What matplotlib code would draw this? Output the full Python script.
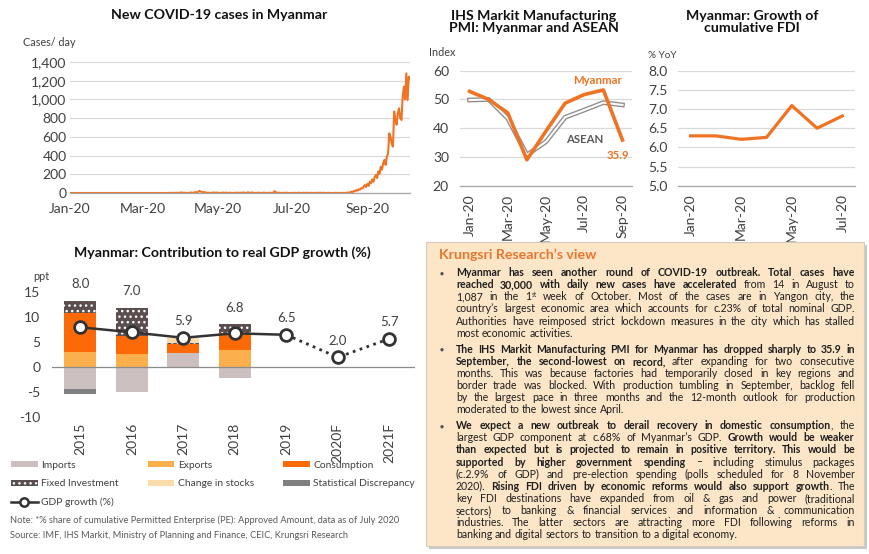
import numpy as np
import matplotlib
matplotlib.use("Agg")
import matplotlib.pyplot as plt
from matplotlib.patches import Patch, Rectangle
from matplotlib.lines import Line2D
from matplotlib.font_manager import FontProperties
from matplotlib.ticker import FuncFormatter

W, H = 870, 554
FONT = ["Lato", "DejaVu Sans"]
plt.rcParams["font.family"] = FONT
plt.rcParams["axes.unicode_minus"] = False

# ---- data ----
# new COVID-19 cases per day, 1 Jan 2020 .. 6 Oct 2020
covid_jan = [0] * 31
covid_feb = [0] * 29
covid_mar = [0] * 22 + [2, 1, 0, 2, 0, 3, 2, 0, 4]
covid_apr = [5, 3, 2, 3, 2, 1, 0, 1, 6, 3, 2, 7, 10, 4, 11, 22, 17, 12, 8, 10,
             7, 4, 3, 2, 1, 2, 3, 5, 2, 4]
covid_may = [3, 1, 2, 0, 5, 3, 2, 4, 1, 0, 3, 2, 1, 0, 2, 1, 4, 2, 1, 3,
             2, 5, 3, 1, 0, 8, 2, 1, 6, 3, 2]
covid_jun = [0, 2, 1, 3, 1, 0, 2, 4, 1, 2, 0, 1, 3, 1, 2, 5, 20, 1, 4, 2,
             3, 1, 0, 2, 1, 3, 2, 1, 0, 1]
covid_jul = [1, 0, 2, 1, 0, 3, 1, 2, 0, 1, 2, 0, 1, 3, 0, 1, 2, 0, 1, 0,
             2, 1, 0, 3, 1, 0, 2, 1, 0, 1, 2]
covid_aug = [0, 0, 1, 0, 2, 0, 1, 0, 0, 1, 0, 2, 0, 1, 0, 6, 3, 8, 14, 10,
             22, 18, 31, 26, 40, 35, 52, 48, 70, 85, 64]
covid_sep = [98, 76, 121, 105, 145, 120, 170, 192, 160, 230, 205, 281, 250, 320, 353,
             300, 388, 420, 638, 600, 530, 495, 870, 780, 730, 850, 905, 800, 780, 1030]
covid_oct = [1136, 1000, 1279, 994, 1243, 1225]
covid_daily = (covid_jan + covid_feb + covid_mar + covid_apr + covid_may + covid_jun
               + covid_jul + covid_aug + covid_sep + covid_oct)
covid_tick_days = [0, 60, 121, 182, 244]
covid_tick_labels = ["Jan-20", "Mar-20", "May-20", "Jul-20", "Sep-20"]

pmi_months = ["Jan-20", "Feb-20", "Mar-20", "Apr-20", "May-20", "Jun-20",
              "Jul-20", "Aug-20", "Sep-20"]
pmi_myanmar = [52.8, 50.0, 45.3, 29.0, 39.0, 48.7, 51.7, 53.3, 35.9]
pmi_asean = [49.8, 50.0, 43.4, 30.7, 35.3, 43.8, 46.3, 48.9, 48.1]

fdi_months = ["Jan-20", "Feb-20", "Mar-20", "Apr-20", "May-20", "Jun-20", "Jul-20"]
fdi_growth = [6.30, 6.30, 6.21, 6.26, 7.09, 6.50, 6.82]

gdp_years = ["2015", "2016", "2017", "2018", "2019", "2020F", "2021F"]
gdp_imports = [-4.4, -5.0, 2.9, -2.1, 0, 0, 0]
gdp_exports = [3.1, 2.7, 0, 3.5, 0, 0, 0]
gdp_consumption = [7.8, 3.6, 1.8, 3.3, 0, 0, 0]
gdp_fixed_inv = [2.4, 5.6, 0.2, 1.8, 0, 0, 0]
gdp_stocks = [0, 0, 1.0, 0, 0, 0, 0]
gdp_stat_disc = [-1.0, 0, -0.2, 0, 0, 0, 0]
gdp_growth = [8.0, 7.0, 5.9, 6.8, 6.5, 2.0, 5.7]

ORANGE = "#ef7322"
TICK = "#404040"
GRID = "#d9d9d9"
C_IMP, C_EXP, C_CONS = "#cbbfbf", "#fbae4c", "#fb6a06"
C_FIX, C_STK, C_STAT = "#5b4e4e", "#fcdcab", "#808080"
TICK_FS = 10


def px_axes(fig, x0, y0, x1, y1):
    return fig.add_axes([x0 / W, 1 - y1 / H, (x1 - x0) / W, (y1 - y0) / H])


def fig_text(fig, x, y, s, **kw):
    return fig.text(x / W, 1 - y / H, s, **kw)


def style_line_axes(ax):
    for s in ax.spines.values():
        s.set_visible(False)
    ax.spines["bottom"].set_visible(True)
    ax.spines["bottom"].set_color("#a6a6a6")
    ax.spines["bottom"].set_linewidth(0.9)
    ax.grid(axis="y", color=GRID, lw=0.9)
    ax.set_axisbelow(True)
    ax.tick_params(length=0, colors=TICK, labelsize=TICK_FS)


fig = plt.figure(figsize=(W / 100, H / 100), dpi=100)

# ---- COVID cases ----
ax = px_axes(fig, 70, 62, 410, 193)
ax.plot(range(len(covid_daily)), covid_daily, color=ORANGE, lw=1.5)
ax.set_xlim(0, len(covid_daily) - 1)
ax.set_ylim(0, 1400)
ax.set_yticks(range(0, 1401, 200))
ax.yaxis.set_major_formatter(FuncFormatter(lambda v, p: f"{v:,.0f}"))
ax.set_xticks(covid_tick_days, covid_tick_labels)
style_line_axes(ax)
ax.tick_params(axis="y", pad=2.5)
ax.tick_params(axis="x", pad=7.5)
fig_text(fig, 219, 15, "New COVID-19 cases in Myanmar", ha="center", va="center",
         fontsize=10.2, fontweight="bold", color="#111111")
fig_text(fig, 23, 42, "Cases/ day", ha="left", va="center", fontsize=7.8, color=TICK)

# ---- PMI ----
ax = px_axes(fig, 460, 70.7, 632, 185.7)
xm = np.arange(len(pmi_months))
ax.plot(xm, pmi_asean, color="#8c8c8c", lw=3.4, solid_joinstyle="round")
ax.plot(xm, pmi_asean, color="white", lw=1.5, solid_joinstyle="round")
ax.plot(xm, pmi_myanmar, color=ORANGE, lw=2.6, solid_joinstyle="round")
ax.set_xlim(-0.5, len(pmi_months) - 0.5)
ax.set_ylim(20, 60)
ax.set_yticks(range(20, 61, 10))
ax.set_xticks(xm[::2], pmi_months[::2], rotation=90)
style_line_axes(ax)
ax.tick_params(axis="y", pad=8)
ax.tick_params(axis="x", pad=6)
ax.annotate("Myanmar", (xm[7], pmi_myanmar[7]), xytext=(-4, 7), textcoords="offset points",
            ha="center", va="center", fontsize=8.2, fontweight="bold", color=ORANGE)
ax.annotate("ASEAN", (xm[6], pmi_asean[6]), xytext=(0, -21), textcoords="offset points",
            ha="center", va="center", fontsize=8.2, fontweight="bold", color="#595959")
ax.annotate(f"{pmi_myanmar[-1]:.1f}", (xm[-1], pmi_myanmar[-1]), xytext=(-3, -11),
            textcoords="offset points", ha="center", va="center", fontsize=8.2,
            fontweight="bold", color=ORANGE)
fig_text(fig, 534, 22, "IHS Markit Manufacturing\nPMI: Myanmar and ASEAN", ha="center",
         va="center", fontsize=10.2, fontweight="bold", color="#111111", linespacing=1.1)
fig_text(fig, 429, 53, "Index", ha="left", va="center", fontsize=7.8, color=TICK)

# ---- FDI ----
ax = px_axes(fig, 678, 70.7, 855, 185.7)
xf = np.arange(len(fdi_months))
ax.plot(xf, fdi_growth, color=ORANGE, lw=2.3, solid_joinstyle="round")
ax.set_xlim(-0.5, len(fdi_months) - 0.5)
ax.set_ylim(5, 8)
ax.set_yticks(np.arange(5, 8.01, 0.5))
ax.yaxis.set_major_formatter(FuncFormatter(lambda v, p: f"{v:.1f}"))
ax.set_xticks(xf[::2], fdi_months[::2], rotation=90)
style_line_axes(ax)
ax.tick_params(axis="y", pad=7.5)
ax.tick_params(axis="x", pad=6)
fig_text(fig, 752, 22, "Myanmar: Growth of\ncumulative FDI", ha="center", va="center",
         fontsize=10.2, fontweight="bold", color="#111111", linespacing=1.1)
fig_text(fig, 648, 56, "% YoY", ha="left", va="center", fontsize=7.2, color=TICK)

# ---- GDP contribution ----
ax = px_axes(fig, 52, 292.3, 415, 417.3)
xg = np.arange(len(gdp_years))
series = [
    ("Imports", gdp_imports, C_IMP, None),
    ("Exports", gdp_exports, C_EXP, None),
    ("Consumption", gdp_consumption, C_CONS, None),
    ("Fixed Investment", gdp_fixed_inv, C_FIX, "..."),
    ("Change in stocks", gdp_stocks, C_STK, None),
    ("Statistical Discrepancy", gdp_stat_disc, C_STAT, None),
]
pos = np.zeros(len(xg))
neg = np.zeros(len(xg))
handles = {}
for name, vals, col, hatch in series:
    v = np.array(vals, dtype=float)
    bottom = np.where(v >= 0, pos, neg)
    ax.bar(xg, v, bottom=bottom, width=0.62, color=col, hatch=hatch,
           edgecolor="white" if hatch else col, linewidth=0)
    pos += np.clip(v, 0, None)
    neg += np.clip(v, None, 0)
    handles[name] = Patch(facecolor=col, hatch=hatch, edgecolor="white" if hatch else col,
                          linewidth=0, label=name)

ax.axhline(0, color="#8c8c8c", lw=0.9, zorder=1)
ax.plot(xg[:5], gdp_growth[:5], color="#333333", lw=1.8, zorder=3)
ax.plot(xg[4:], gdp_growth[4:], color="#333333", lw=2.0, ls=(0, (1, 1.6)), zorder=3)
ax.plot(xg, gdp_growth, ls="none", marker="o", ms=8.5, mfc="white", mec="#333333",
        mew=2.0, zorder=4)
tops = np.maximum(pos, gdp_growth)
for i, (g, t) in enumerate(zip(gdp_growth, tops)):
    ax.annotate(f"{g:.1f}", (xg[i], t), xytext=(0, 12), textcoords="offset points",
                ha="center", va="center", fontsize=9.5, color=TICK, annotation_clip=False)
ax.set_xlim(-0.55, len(gdp_years) - 0.5)
ax.set_ylim(-10, 15)
ax.set_yticks(range(-10, 16, 5))
ax.set_xticks(xg, gdp_years, rotation=90)
for s in ax.spines.values():
    s.set_visible(False)
ax.tick_params(length=0, colors=TICK, labelsize=TICK_FS)
ax.tick_params(axis="y", pad=8.5)
ax.tick_params(axis="x", pad=4)
fig_text(fig, 222, 253, "Myanmar: Contribution to real GDP growth (%)", ha="center",
         va="center", fontsize=10.2, fontweight="bold", color="#111111")
fig_text(fig, 33, 277, "ppt", ha="left", va="center", fontsize=7.8, color=TICK)

handles["GDP growth (%)"] = Line2D([], [], color="#333333", lw=1.8, marker="o", ms=6,
                                   mfc="white", mec="#333333", mew=1.8, label="GDP growth (%)")
order = ["Imports", "Fixed Investment", "GDP growth (%)", "Exports", "Change in stocks",
         "Consumption", "Statistical Discrepancy"]
leg = fig.legend([handles[k] for k in order], order, loc="upper left",
                 bbox_to_anchor=(11 / W, 1 - 461 / H), frameon=False, ncol=3, fontsize=7.4,
                 handlelength=2.6, handleheight=0.55, handletextpad=0.35,
                 columnspacing=2.8, labelspacing=0.9, borderpad=0, borderaxespad=0)
for t in leg.get_texts():
    t.set_color(TICK)

fig_text(fig, 10, 520, "Note: *% share of cumulative Permitted Enterprise (PE): Approved Amount, "
         "data as of July 2020", ha="left", va="center", fontsize=6.65, color="#595959")
fig_text(fig, 10, 535, "Source: IMF, IHS Markit, Ministry of Planning and Finance, CEIC, "
         "Krungsri Research", ha="left", va="center", fontsize=6.65, color="#595959")

# ---- text box ----
bx0, by0, bx1, by1 = 426, 242, 864, 546
fig.patches.append(Rectangle((bx0 / W + 3 / W, 1 - (by1 + 3) / H), (bx1 - bx0) / W,
                             (by1 - by0) / H, transform=fig.transFigure,
                             facecolor="#c8c8c8", edgecolor="none", zorder=0))
fig.patches.append(Rectangle((bx0 / W, 1 - by1 / H), (bx1 - bx0) / W, (by1 - by0) / H,
                             transform=fig.transFigure, facecolor="#fde6c8",
                             edgecolor="#d6cabd", lw=0.8, zorder=0))
fig_text(fig, 439, 255, "Krungsri Research\u2019s view", ha="left", va="center",
         fontsize=10.2, fontweight="bold", color="#e8762d")

paragraphs = [
    (272.7, [
        "**Myanmar has seen another round of COVID-19 outbreak. Total cases have**",
        "**reached 30,000 with daily new cases have accelerated** from 14 in August to",
        "1,087 in the 1^st^ week of October. Most of the cases are in Yangon city, the",
        "country\u2019s largest economic area which accounts for c.23% of total nominal GDP.",
        "Authorities have reimposed strict lockdown measures in the city which has stalled",
        "most economic activities.",
    ]),
    (349.3, [
        "**The IHS Markit Manufacturing PMI for Myanmar has dropped sharply to 35.9 in**",
        "**September, the second-lowest on record,** after expanding for two consecutive",
        "months. This was because factories had temporarily closed in key regions and",
        "border trade was blocked. With production tumbling in September, backlog fell",
        "by the largest pace in three months and the 12-month outlook for production",
        "moderated to the lowest since April.",
    ]),
    (425.7, [
        "**We expect a new outbreak to derail recovery in domestic consumption**, the",
        "largest GDP component at c.68% of Myanmar\u2019s GDP. **Growth would be weaker**",
        "**than expected but is projected to remain in positive territory. This would be**",
        "**supported by higher government spending** \u2013 including stimulus packages",
        "(c.2.9% of GDP) and pre-election spending (polls scheduled for 8 November",
        "2020). **Rising FDI driven by economic reforms would also support growth**. The",
        "key FDI destinations have expanded from oil & gas and power (traditional",
        "sectors) to banking & financial services and information & communication",
        "industries. The latter sectors are attracting more FDI following reforms in",
        "banking and digital sectors to transition to a digital economy.",
    ]),
]


def parse_line(s):
    words, runs, buf = [], [], ""
    bold = sup = False
    i = 0
    while i < len(s):
        if s.startswith("**", i):
            if buf:
                runs.append((buf, bold, sup))
                buf = ""
            bold = not bold
            i += 2
            continue
        ch = s[i]
        if ch == "^" or ch == " ":
            if buf:
                runs.append((buf, bold, sup))
                buf = ""
            if ch == "^":
                sup = not sup
            elif runs:
                words.append(runs)
                runs = []
            i += 1
            continue
        buf += ch
        i += 1
    if buf:
        runs.append((buf, bold, sup))
    if runs:
        words.append(runs)
    return words


renderer = fig.canvas.get_renderer()


def font(bold, sup, fs):
    return FontProperties(family=FONT, weight="bold" if bold else "normal",
                          size=fs * (0.62 if sup else 1.0))


def width(text, fp):
    return renderer.get_text_width_height_descent(text, fp, ismath=False)[0]


tx0, tx1 = 456, 855
LINE_H = 12.1
parsed = [(y0, [parse_line(l) for l in lines]) for y0, lines in paragraphs]

# pick the biggest size where every justified line still fits
fs = 7.6
while fs > 5:
    space = width("a a", font(False, False, fs)) - width("aa", font(False, False, fs))
    ok = True
    for _, lines in parsed:
        for words in lines[:-1]:
            natural = sum(width(t, font(b, s, fs)) for w in words for t, b, s in w)
            if (tx1 - tx0 - natural) / (len(words) - 1) < 0.6 * space:
                ok = False
    if ok:
        break
    fs -= 0.05

space = width("a a", font(False, False, fs)) - width("aa", font(False, False, fs))
for y0, lines in parsed:
    fig_text(fig, 442, y0, "\u25cf", ha="center", va="center", fontsize=4.8, color="#505050")
    for li, words in enumerate(lines):
        yc = y0 + li * LINE_H
        base = yc + 3.5
        ww = [[(t, b, s, width(t, font(b, s, fs))) for t, b, s in w] for w in words]
        totals = [sum(r[3] for r in w) for w in ww]
        if li < len(lines) - 1:
            gap = (tx1 - tx0 - sum(totals)) / (len(words) - 1)
        else:
            gap = space
        x = tx0
        for w, tot in zip(ww, totals):
            xr = x
            for t, b, s, wd in w:
                fig_text(fig, xr, base - (3.8 if s else 0), t, ha="left", va="baseline",
                         fontproperties=font(b, s, fs), color="#1e1e1e")
                xr += wd + (0.4 if s else 0)
            x += tot + gap

fig.savefig("out.png", dpi=100)
